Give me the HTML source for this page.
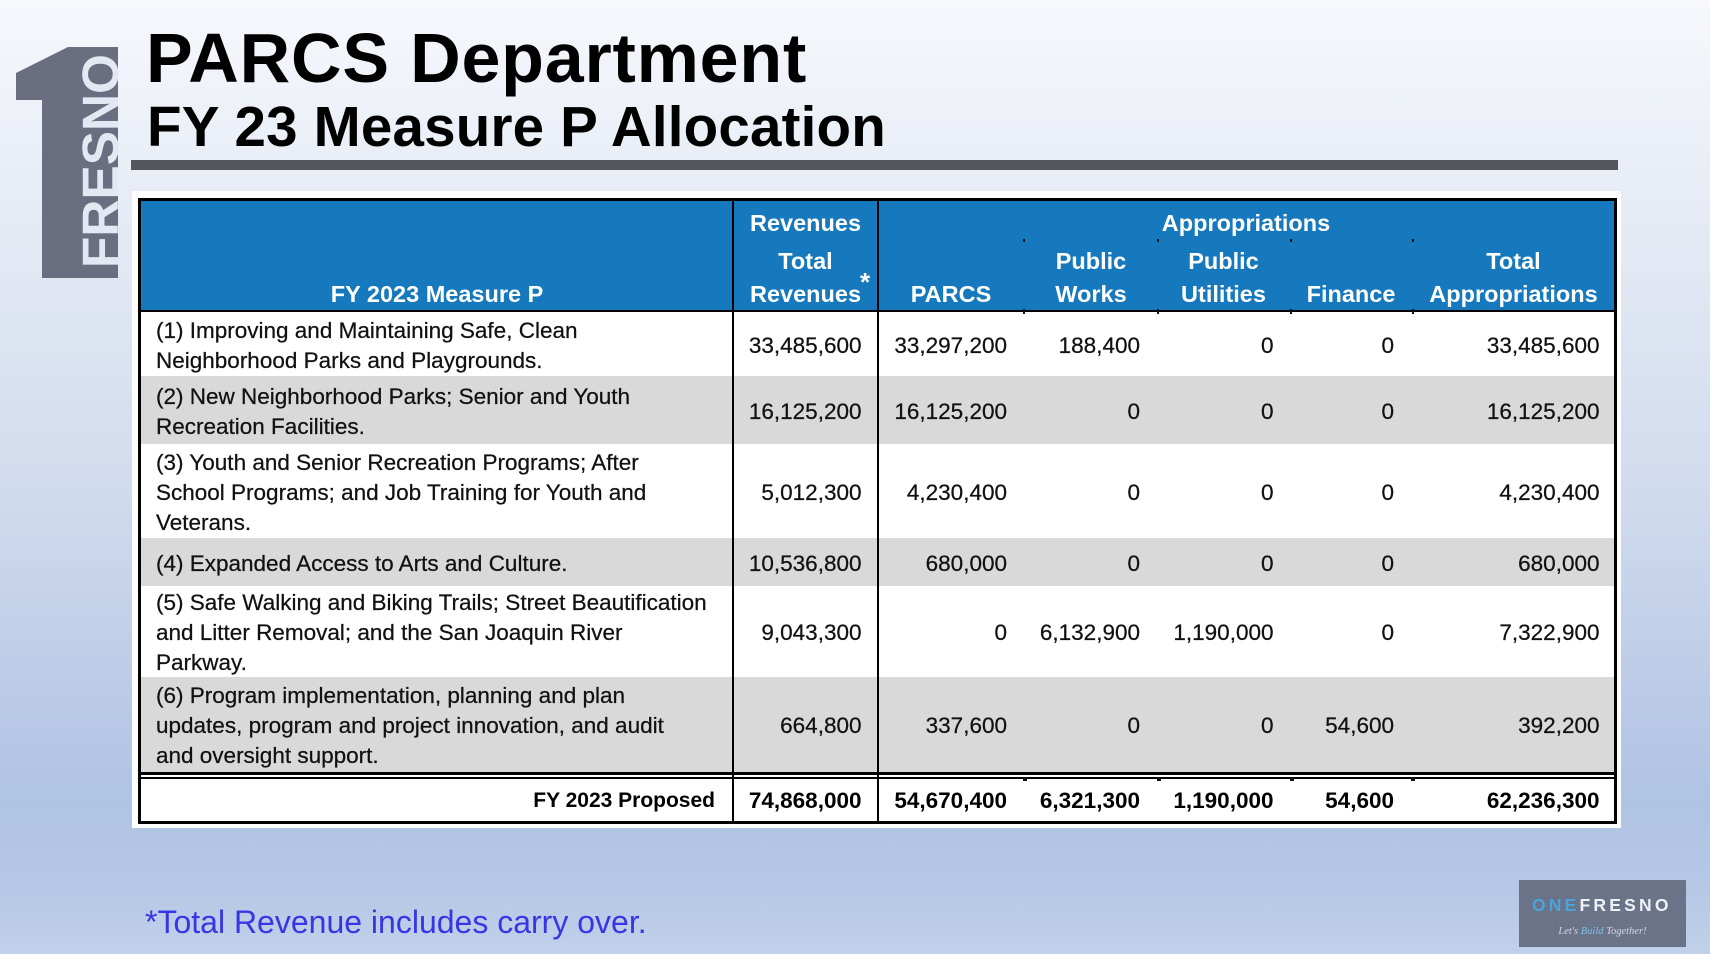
<!DOCTYPE html>
<html>
<head>
<meta charset="utf-8">
<style>
  html,body{margin:0;padding:0;}
  body{width:1710px;height:954px;overflow:hidden;position:relative;
    background:linear-gradient(to bottom,#f6f8fc 0%,#e6ebf5 22%,#d2dcee 50%,#bccbe7 72%,#afc3e3 84%,#b6c8e6 93%,#c1d0ea 100%);
    font-family:"Liberation Sans",Arial,sans-serif;}
  .a{position:absolute;}
  .t1{left:146px;top:23px;font-weight:bold;font-size:70px;line-height:70px;color:#000;white-space:nowrap;letter-spacing:0.8px;}
  .t2{left:147px;top:99px;font-weight:bold;font-size:56.5px;line-height:56.5px;color:#000;white-space:nowrap;letter-spacing:0.2px;}
  .h{position:absolute;color:#fff;font-weight:bold;font-size:23.5px;line-height:30px;white-space:nowrap;text-align:center;}
  .c{position:absolute;display:flex;align-items:center;box-sizing:border-box;padding-top:3px;white-space:nowrap;
     font-size:22.5px;line-height:30px;color:#111;-webkit-text-stroke:0.25px #111;}
  .n{justify-content:flex-end;width:140px;}
  .lbl{left:156px;width:570px;}
  .b{font-weight:bold;-webkit-text-stroke:0;color:#000;}
  .vl{position:absolute;width:1.5px;background:#000;top:201px;height:620px;}
  .tk{position:absolute;width:2px;background:#111;}
</style>
</head>
<body>

<!-- Logo -->
<svg class="a" style="left:0;top:0" width="130" height="290" viewBox="0 0 130 290">
  <polygon points="68,47 118,47 118,278 42,278 42,100 16,100 16,73" fill="#6a6e80"/>
  <text transform="translate(118,268) rotate(-90)" font-family="Liberation Sans, Arial, sans-serif" font-weight="bold" font-size="51" fill="#e3e8f2" textLength="214" lengthAdjust="spacingAndGlyphs">FRESNO</text>
</svg>

<div class="a t1">PARCS Department</div>
<div class="a t2">FY 23 Measure P Allocation</div>
<div class="a" style="left:131px;top:160px;width:1487px;height:10px;background:#55565b;"></div>

<!-- Table background -->
<div class="a" style="left:132px;top:191px;width:1489px;height:637px;background:#fff;"></div>
<div class="a" style="left:138px;top:198px;width:1473px;height:620px;border:3px solid #000;background:#fff;"></div>

<!-- Header -->
<div class="a" style="left:141px;top:201px;width:1473px;height:109px;background:#1679bd;"></div>
<div class="a" style="left:141px;top:310px;width:1473px;height:2px;background:#000;"></div>

<!-- Row backgrounds -->
<div class="a" style="left:141px;top:376px;width:1473px;height:68px;background:#d9d9d9;"></div>
<div class="a" style="left:141px;top:538px;width:1473px;height:48px;background:#d9d9d9;"></div>
<div class="a" style="left:141px;top:677px;width:1473px;height:95px;background:#d9d9d9;"></div>
<div class="a" style="left:141px;top:772px;width:1473px;height:3px;background:#000;"></div>
<div class="a" style="left:141px;top:777px;width:1473px;height:1.5px;background:#000;"></div>

<!-- Vertical lines -->
<div class="vl" style="left:732px;"></div>
<div class="vl" style="left:877px;"></div>

<!-- Ticks -->
<div class="tk" style="left:1023px;top:239px;height:3px;"></div>
<div class="tk" style="left:1157px;top:239px;height:3px;"></div>
<div class="tk" style="left:1290px;top:239px;height:3px;"></div>
<div class="tk" style="left:1412px;top:239px;height:3px;"></div>
<div class="tk" style="left:1023px;top:309px;height:5px;"></div>
<div class="tk" style="left:1157px;top:309px;height:5px;"></div>
<div class="tk" style="left:1290px;top:309px;height:5px;"></div>
<div class="tk" style="left:1412px;top:309px;height:5px;"></div>
<div class="tk" style="left:1023px;top:777px;height:4px;width:4px;"></div>
<div class="tk" style="left:1157px;top:777px;height:4px;width:4px;"></div>
<div class="tk" style="left:1290px;top:777px;height:4px;width:4px;"></div>
<div class="tk" style="left:1411px;top:777px;height:4px;width:4px;"></div>

<!-- Header labels -->
<div class="h" style="left:141px;width:592px;top:279px;">FY 2023 Measure P</div>
<div class="h" style="left:733px;width:145px;top:208px;">Revenues</div>
<div class="h" style="left:733px;width:145px;top:246px;">Total</div>
<div class="h" style="left:733px;width:145px;top:279px;">Revenues</div>
<div class="h" style="left:857px;width:16px;top:267px;font-size:26px;">*</div>
<div class="h" style="left:1096px;width:300px;top:208px;">Appropriations</div>
<div class="h" style="left:878px;width:146px;top:279px;">PARCS</div>
<div class="h" style="left:1024px;width:134px;top:246px;">Public</div>
<div class="h" style="left:1024px;width:134px;top:279px;">Works</div>
<div class="h" style="left:1157px;width:133px;top:246px;">Public</div>
<div class="h" style="left:1157px;width:133px;top:279px;">Utilities</div>
<div class="h" style="left:1290px;width:122px;top:279px;">Finance</div>
<div class="h" style="left:1413px;width:201px;top:246px;">Total</div>
<div class="h" style="left:1413px;width:201px;top:279px;">Appropriations</div>

<!-- Row 1 -->
<div class="c lbl" style="top:312px;height:64px;"><div>(1) Improving and Maintaining Safe, Clean<br>Neighborhood Parks and Playgrounds.</div></div>
<div class="c n" style="left:721.5px;top:312px;height:64px;">33,485,600</div>
<div class="c n" style="left:867px;top:312px;height:64px;">33,297,200</div>
<div class="c n" style="left:1000px;top:312px;height:64px;">188,400</div>
<div class="c n" style="left:1133.5px;top:312px;height:64px;">0</div>
<div class="c n" style="left:1254px;top:312px;height:64px;">0</div>
<div class="c n" style="left:1459.5px;top:312px;height:64px;">33,485,600</div>

<!-- Row 2 -->
<div class="c lbl" style="top:376px;height:68px;"><div>(2) New Neighborhood Parks; Senior and Youth<br>Recreation Facilities.</div></div>
<div class="c n" style="left:721.5px;top:376px;height:68px;">16,125,200</div>
<div class="c n" style="left:867px;top:376px;height:68px;">16,125,200</div>
<div class="c n" style="left:1000px;top:376px;height:68px;">0</div>
<div class="c n" style="left:1133.5px;top:376px;height:68px;">0</div>
<div class="c n" style="left:1254px;top:376px;height:68px;">0</div>
<div class="c n" style="left:1459.5px;top:376px;height:68px;">16,125,200</div>

<!-- Row 3 -->
<div class="c lbl" style="top:444px;height:94px;"><div>(3) Youth and Senior Recreation Programs; After<br>School Programs; and Job Training for Youth and<br>Veterans.</div></div>
<div class="c n" style="left:721.5px;top:444px;height:94px;">5,012,300</div>
<div class="c n" style="left:867px;top:444px;height:94px;">4,230,400</div>
<div class="c n" style="left:1000px;top:444px;height:94px;">0</div>
<div class="c n" style="left:1133.5px;top:444px;height:94px;">0</div>
<div class="c n" style="left:1254px;top:444px;height:94px;">0</div>
<div class="c n" style="left:1459.5px;top:444px;height:94px;">4,230,400</div>

<!-- Row 4 -->
<div class="c lbl" style="top:538px;height:48px;"><div>(4) Expanded Access to Arts and Culture.</div></div>
<div class="c n" style="left:721.5px;top:538px;height:48px;">10,536,800</div>
<div class="c n" style="left:867px;top:538px;height:48px;">680,000</div>
<div class="c n" style="left:1000px;top:538px;height:48px;">0</div>
<div class="c n" style="left:1133.5px;top:538px;height:48px;">0</div>
<div class="c n" style="left:1254px;top:538px;height:48px;">0</div>
<div class="c n" style="left:1459.5px;top:538px;height:48px;">680,000</div>

<!-- Row 5 -->
<div class="c lbl" style="top:586px;height:91px;"><div>(5) Safe Walking and Biking Trails; Street Beautification<br>and Litter Removal; and the San Joaquin River<br>Parkway.</div></div>
<div class="c n" style="left:721.5px;top:586px;height:91px;">9,043,300</div>
<div class="c n" style="left:867px;top:586px;height:91px;">0</div>
<div class="c n" style="left:1000px;top:586px;height:91px;">6,132,900</div>
<div class="c n" style="left:1133.5px;top:586px;height:91px;">1,190,000</div>
<div class="c n" style="left:1254px;top:586px;height:91px;">0</div>
<div class="c n" style="left:1459.5px;top:586px;height:91px;">7,322,900</div>

<!-- Row 6 -->
<div class="c lbl" style="top:677px;height:95px;"><div>(6) Program implementation, planning and plan<br>updates, program and project innovation, and audit<br>and oversight support.</div></div>
<div class="c n" style="left:721.5px;top:677px;height:95px;">664,800</div>
<div class="c n" style="left:867px;top:677px;height:95px;">337,600</div>
<div class="c n" style="left:1000px;top:677px;height:95px;">0</div>
<div class="c n" style="left:1133.5px;top:677px;height:95px;">0</div>
<div class="c n" style="left:1254px;top:677px;height:95px;">54,600</div>
<div class="c n" style="left:1459.5px;top:677px;height:95px;">392,200</div>

<!-- Total row -->
<div class="c n b" style="left:415px;width:300px;top:778px;height:43px;font-size:21px;">FY 2023 Proposed</div>
<div class="c n b" style="left:721.5px;top:778px;height:43px;">74,868,000</div>
<div class="c n b" style="left:867px;top:778px;height:43px;">54,670,400</div>
<div class="c n b" style="left:1000px;top:778px;height:43px;">6,321,300</div>
<div class="c n b" style="left:1133.5px;top:778px;height:43px;">1,190,000</div>
<div class="c n b" style="left:1254px;top:778px;height:43px;">54,600</div>
<div class="c n b" style="left:1459.5px;top:778px;height:43px;">62,236,300</div>

<!-- Footnote -->
<div class="a" style="left:145px;top:906px;font-size:32px;line-height:32px;color:#3637e4;white-space:nowrap;">*Total Revenue includes carry over.</div>

<!-- OneFresno badge -->
<div class="a" style="left:1519px;top:880px;width:167px;height:67px;background:#6b7388;"></div>
<div class="a" style="left:1532px;top:894px;font-weight:bold;font-size:17.5px;line-height:22px;letter-spacing:3.2px;white-space:nowrap;color:#eef1f6;"><span style="color:#4aa3d8;">ONE</span>FRESNO</div>
<div class="a" style="left:1519px;width:167px;top:925px;text-align:center;font-style:italic;font-size:10.5px;line-height:14px;color:#d3d8e2;white-space:nowrap;font-family:'Liberation Serif',serif;">Let's <span style="color:#7fc0e8;">Build</span> Together!</div>

</body>
</html>
